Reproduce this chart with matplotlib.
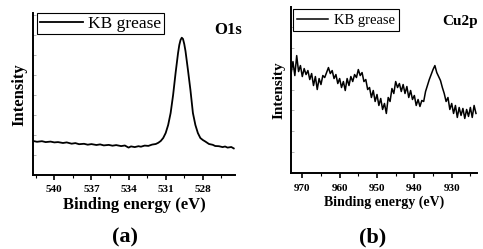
import matplotlib
matplotlib.use("Agg")
import matplotlib.pyplot as plt
from matplotlib.ticker import MultipleLocator

# O1s spectrum (binding energy in eV, intensity in arb. units)
o1s_energy = [541.7, 541.4, 541.0, 540.7, 540.3, 540.0, 539.7, 539.3, 539.0, 538.6,
              538.3, 538.0, 537.6, 537.3, 537.0, 536.6, 536.3, 536.0, 535.6, 535.3,
              535.0, 534.6, 534.3, 534.0, 533.8, 533.5, 533.2, 533.0, 532.7, 532.4,
              532.1, 531.8, 531.6, 531.4, 531.2, 531.0, 530.8, 530.6, 530.4, 530.2,
              530.0, 529.9, 529.8, 529.7, 529.6, 529.5, 529.4, 529.2, 529.0, 528.8,
              528.6, 528.4, 528.2, 528.0, 527.8, 527.5, 527.2, 527.0, 526.7, 526.4,
              526.2, 526.0, 525.7, 525.5]
o1s_counts = [34.0, 33.2, 33.8, 32.9, 33.4, 32.6, 32.9, 32.0, 32.6, 31.3,
              31.9, 30.8, 31.2, 30.3, 30.9, 30.0, 30.6, 29.6, 30.1, 29.3,
              29.9, 28.9, 29.5, 27.4, 28.6, 27.9, 28.8, 28.3, 29.4, 29.1,
              30.4, 31.0, 32.2, 34.0, 37.0, 42.0, 50.0, 62.0, 80.0, 102.0,
              122.0, 130.0, 135.0, 137.3, 136.0, 131.0, 124.0, 105.0, 85.0, 62.0,
              50.0, 42.0, 37.0, 35.0, 33.5, 31.0, 30.2, 29.0, 28.8, 27.9,
              28.5, 27.4, 28.0, 26.6]

# Cu2p spectrum
cu_energy = [973.0, 972.5, 972.0, 971.5, 971.0, 970.5, 970.0, 969.5, 969.0, 968.5,
             968.0, 967.5, 967.0, 966.5, 966.0, 965.5, 965.0, 964.5, 964.0, 963.5,
             963.0, 962.5, 962.0, 961.5, 961.0, 960.5, 960.0, 959.5, 959.0, 958.5,
             958.0, 957.5, 957.0, 956.5, 956.0, 955.5, 955.0, 954.5, 954.0, 953.5,
             953.0, 952.5, 952.0, 951.5, 951.0, 950.5, 950.0, 949.5, 949.0, 948.5,
             948.0, 947.5, 947.0, 946.5, 946.0, 945.5, 945.0, 944.5, 944.0, 943.5,
             943.0, 942.5, 942.0, 941.5, 941.0, 940.5, 940.0, 939.5, 939.0, 938.5,
             938.0, 937.5, 937.0, 936.5, 936.0, 935.5, 935.0, 934.5, 934.0, 933.5,
             933.0, 932.5, 932.0, 931.5, 931.0, 930.5, 930.0, 929.5, 929.0, 928.5,
             928.0, 927.5, 927.0, 926.5, 926.0, 925.5, 925.0, 924.5, 924.0, 923.5]
cu_counts = [100, 112, 98, 118, 102, 108, 97, 105, 99, 103,
             94, 100, 88, 97, 84, 95, 89, 98, 96, 101,
             106, 100, 103, 95, 99, 90, 95, 86, 92, 83,
             95, 88, 97, 92, 99, 96, 104, 98, 101, 92,
             94, 84, 86, 76, 83, 72, 79, 68, 75, 64,
             70, 60, 76, 72, 85, 80, 92, 86, 90, 82,
             89, 80, 87, 76, 83, 74, 78, 68, 74, 67,
             73, 72, 82, 88, 94, 99, 104, 108, 101, 97,
             93, 86, 80, 72, 76, 64, 70, 60, 68, 56,
             66, 58, 65, 55, 64, 57, 66, 56, 68, 60]

plt.rcParams['font.family'] = ['Liberation Serif', 'DejaVu Serif']

fig = plt.figure(figsize=(4.83, 2.49), dpi=100)
ax1 = fig.add_axes([0.0689, 0.2972, 0.4176, 0.6494])
ax2 = fig.add_axes([0.6019, 0.3040, 0.3851, 0.6690])


def style_axes(ax):
    for side in ['top', 'right']:
        ax.spines[side].set_visible(False)
    for side in ['left', 'bottom']:
        ax.spines[side].set_linewidth(1.4)
    ax.tick_params(axis='x', which='major', direction='out', length=3.5, width=1.2,
                   labelsize=8, pad=4)
    ax.tick_params(axis='x', which='minor', direction='out', length=2, width=0.8)
    ax.tick_params(axis='y', which='both', direction='in', length=2, width=0.5,
                   colors='#999999', labelleft=False)
    for lab in ax.get_xticklabels():
        lab.set_fontweight('bold')


# (a) O1s
ax1.plot(o1s_energy, o1s_counts, color='black', lw=1.3, label='KB grease')
ax1.set_xlim(541.7, 525.4)
ax1.set_ylim(0, 161.7)
ax1.xaxis.set_major_locator(MultipleLocator(3))
ax1.xaxis.set_minor_locator(MultipleLocator(1.5))
ax1.yaxis.set_major_locator(MultipleLocator(20))
style_axes(ax1)
ax1.set_xlabel('Binding energy (eV)', fontsize=12, fontweight='bold', labelpad=2)
ax1.set_ylabel('Intensity', fontsize=12, fontweight='bold', labelpad=4)
ax1.legend(loc='upper left', bbox_to_anchor=(37 / 483, 1 - 13 / 249),
           bbox_transform=fig.transFigure, borderaxespad=0, fontsize=12.5,
           frameon=True, fancybox=False, edgecolor='black', framealpha=1,
           borderpad=0.15, handlelength=2.5, handletextpad=0.3)
ax1.get_legend().get_frame().set_linewidth(0.8)
fig.text(228 / 483, 1 - 30 / 249, 'O1s', fontsize=12, fontweight='bold',
         ha='center', va='center')
fig.text(125 / 483, 1 - 237 / 249, '(a)', fontsize=16, fontweight='bold',
         ha='center', va='center')

# (b) Cu2p
ax2.plot(cu_energy, cu_counts, color='black', lw=1.1, label='KB grease')
ax2.set_xlim(973.1, 923.3)
ax2.set_ylim(0, 167)
ax2.xaxis.set_major_locator(MultipleLocator(10))
ax2.xaxis.set_minor_locator(MultipleLocator(5))
ax2.yaxis.set_major_locator(MultipleLocator(21))
style_axes(ax2)
ax2.set_xlabel('Binding energy (eV)', fontsize=10, fontweight='bold', labelpad=2)
ax2.set_ylabel('Intensity', fontsize=11, fontweight='bold', labelpad=4)
ax2.legend(loc='upper left', bbox_to_anchor=(293 / 483, 1 - 9.3 / 249),
           bbox_transform=fig.transFigure, borderaxespad=0, fontsize=10.5,
           frameon=True, fancybox=False, edgecolor='black', framealpha=1,
           borderpad=0.3, handlelength=2.1, handletextpad=0.4)
ax2.get_legend().get_frame().set_linewidth(0.8)
fig.text(460 / 483, 1 - 22 / 249, 'Cu2p', fontsize=11, fontweight='bold',
         ha='center', va='center')
fig.text(373 / 483, 1 - 237 / 249, '(b)', fontsize=16, fontweight='bold',
         ha='center', va='center')

fig.savefig('out.png', dpi=100)
